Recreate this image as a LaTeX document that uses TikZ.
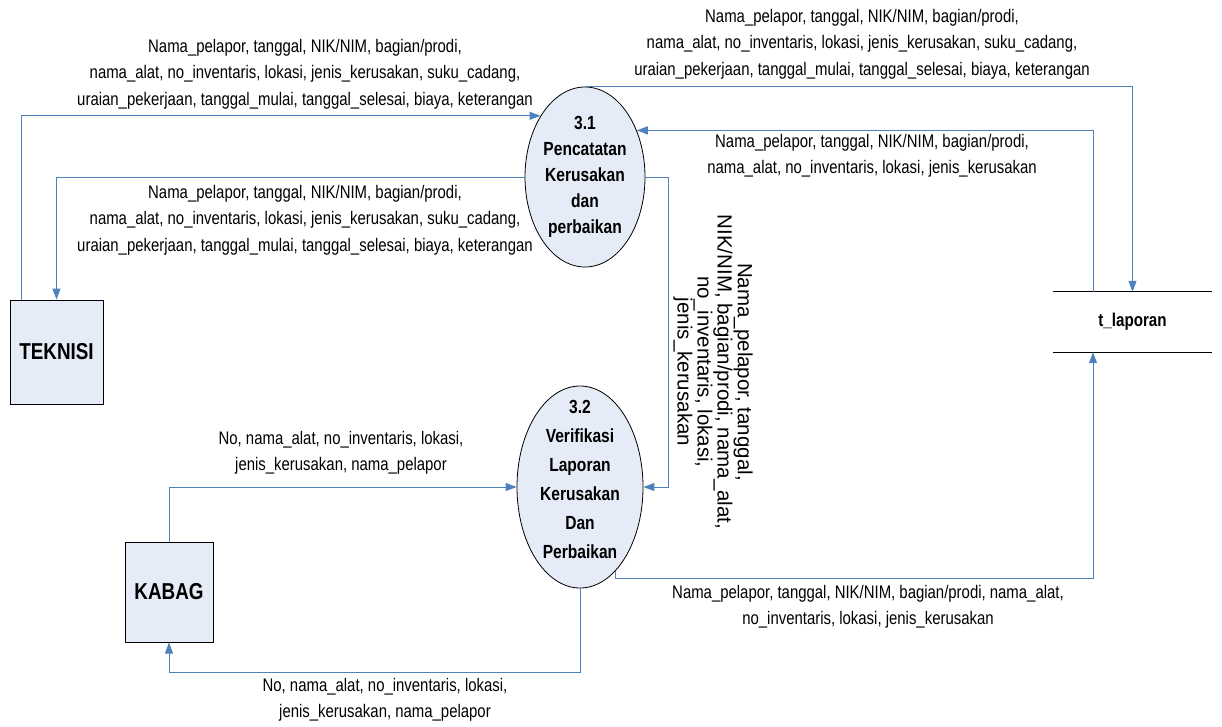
\documentclass[tikz,border=0pt]{standalone}
\usepackage{fontspec}
\setmainfont{Liberation Sans}
\newfontfamily\narrowfont{Liberation Sans}[FakeStretch=0.82]
\usetikzlibrary{shapes.geometric,arrows.meta,calc}

\definecolor{flowblue}{RGB}{79,129,189}
\definecolor{boxfill}{RGB}{230,236,247}

\begin{document}
\begin{tikzpicture}[x=1pt,y=-1pt,
  flow/.style={draw=flowblue, line width=1pt, -{Triangle[length=11pt,width=8pt]}},
  process/.style={ellipse, draw=black, line width=0.8pt, fill=boxfill, inner sep=0pt},
  entity/.style={rectangle, draw=black, line width=1pt, fill=boxfill, inner sep=0pt,
    font={\narrowfont\bfseries\fontsize{23}{26}\selectfont}},
  storetext/.style={inner sep=0pt, font={\narrowfont\bfseries\fontsize{18.5}{22}\selectfont}},
  lbl/.style={align=center, inner sep=0pt, font={\narrowfont\fontsize{18.2}{26.5}\selectfont}},
  vlbl/.style={align=center, inner sep=0pt, rotate=-90, font={\fontsize{20.5}{18.5}\selectfont}},
  ptext/.style={align=center, inner sep=0pt, font={\narrowfont\bfseries\fontsize{19}{26}\selectfont}}]

\useasboundingbox (0,0) rectangle (1222,726);

% external entities
\node[entity, minimum width=93pt, minimum height=104pt] (tek) at (56.5,352) {TEKNISI};
\node[entity, minimum width=88pt, minimum height=100pt] (kb) at (169,592) {KABAG};

% processes
\node[process, minimum width=120pt, minimum height=180pt] (p1) at (585,177) {};
\node[ptext] (p1t) at (p1.center) {3.1\\Pencatatan\\Kerusakan\\dan\\perbaikan};
\node[process, minimum width=126pt, minimum height=202pt] (p2) at (580,487) {};
\node[ptext, font={\narrowfont\bfseries\fontsize{19}{29}\selectfont}] (p2t) at (580,479) {3.2\\Verifikasi\\Laporan\\Kerusakan\\Dan\\Perbaikan};

% data store
\node[storetext, minimum width=159pt, minimum height=60pt] (st) at (1132.5,322) {t\_laporan};
\draw[line width=1pt] (st.north west) -- (st.north east);
\draw[line width=1pt] (st.south west) -- (st.south east);

% bend points
\coordinate (j1) at (668,177);
\coordinate (j2) at (580,672);
\coordinate (j3) at (1093,578);

% flows
\draw[flow] ([xshift=12pt]tek.north west) |- (p1.126.7);
\draw[flow] (p1.west) -| (tek.north);
\draw[flow] (p1.north) -| (st.north);
\draw[flow] ([xshift=-39.5pt]st.north) |- (p1.42.5);
\draw[flow] (p1.east) -- (j1) |- (p2.east);
\draw[flow] (kb.north) |- (p2.west);
\draw[flow] (p2.south) -- (j2) -| (kb.south);
\draw[flow] (p2.-67.4) |- (j3) -- ([xshift=-39.5pt]st.south);

% flow labels
\node[lbl] (l1) at (305,74) {Nama\_pelapor, tanggal, NIK/NIM, bagian/prodi,\\nama\_alat, no\_inventaris, lokasi, jenis\_kerusakan, suku\_cadang,\\uraian\_pekerjaan, tanggal\_mulai, tanggal\_selesai, biaya, keterangan};
\node[lbl] (l2) at (305,220) {Nama\_pelapor, tanggal, NIK/NIM, bagian/prodi,\\nama\_alat, no\_inventaris, lokasi, jenis\_kerusakan, suku\_cadang,\\uraian\_pekerjaan, tanggal\_mulai, tanggal\_selesai, biaya, keterangan};
\node[lbl] (l3) at (862,44) {Nama\_pelapor, tanggal, NIK/NIM, bagian/prodi,\\nama\_alat, no\_inventaris, lokasi, jenis\_kerusakan, suku\_cadang,\\uraian\_pekerjaan, tanggal\_mulai, tanggal\_selesai, biaya, keterangan};
\node[lbl] (l4) at (872,156) {Nama\_pelapor, tanggal, NIK/NIM, bagian/prodi,\\nama\_alat, no\_inventaris, lokasi, jenis\_kerusakan};
\node[vlbl] (l5) at (713,372) {Nama\_pelapor, tanggal,\\NIK/NIM, bagian/prodi, nama\_alat,\\no\_inventaris, lokasi,\\jenis\_kerusakan};
\node[lbl] (l6) at (341,453) {No, nama\_alat, no\_inventaris, lokasi,\\jenis\_kerusakan, nama\_pelapor};
\node[lbl] (l7) at (385,700) {No, nama\_alat, no\_inventaris, lokasi,\\jenis\_kerusakan, nama\_pelapor};
\node[lbl] (l8) at (868,607) {Nama\_pelapor, tanggal, NIK/NIM, bagian/prodi, nama\_alat,\\no\_inventaris, lokasi, jenis\_kerusakan};

\end{tikzpicture}
\end{document}
